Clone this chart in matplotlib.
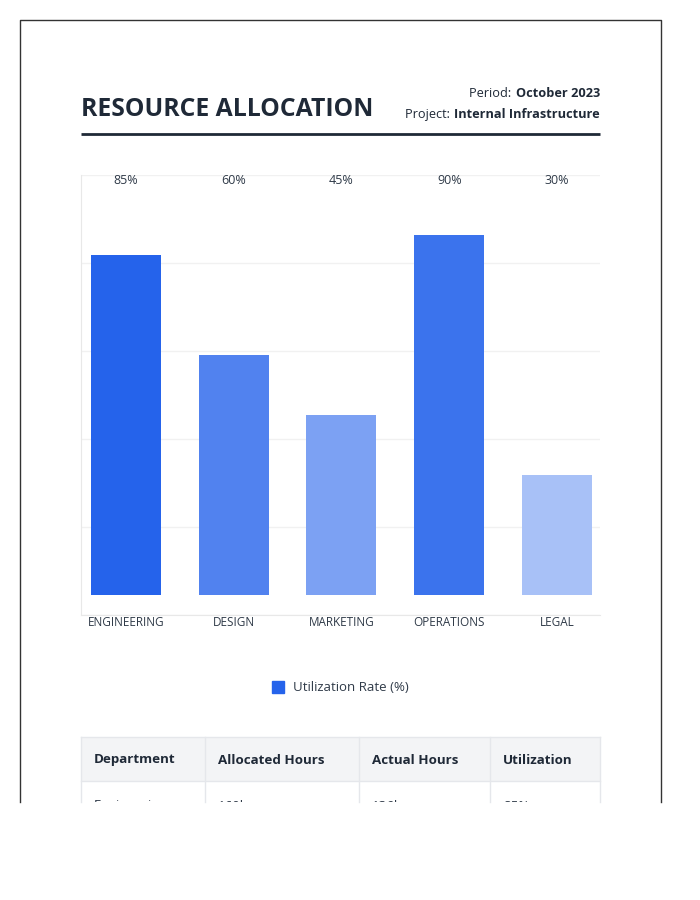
import matplotlib
matplotlib.use("Agg")
import matplotlib.pyplot as plt
from matplotlib.patches import Rectangle
import numpy as np

plt.rcParams['font.family'] = ['Open Sans', 'DejaVu Sans']

# ---- data ----
departments = ["ENGINEERING", "DESIGN", "MARKETING", "OPERATIONS", "LEGAL"]
utilization = [85, 60, 45, 90, 30]
bar_colors = ["#2563eb", "#5182ef", "#7ca1f3", "#3b73ed", "#a8c1f7"]
legend_label = "Utilization Rate (%)"
title = "RESOURCE ALLOCATION"
period = "October 2023"
project = "Internal Infrastructure"
table_header = ["Department", "Allocated Hours", "Actual Hours", "Utilization"]
table_row = ["Engineering", "160h", "136h", "85%"]

W, H = 700, 900
fig = plt.figure(figsize=(W / 100, H / 100), dpi=100)
fig.patch.set_facecolor("white")

# overlay axes in pixel coords
ov = fig.add_axes([0, 0, 1, 1])
ov.set_xlim(0, W)
ov.set_ylim(H, 0)
ov.axis("off")

DARK = "#1f2937"
TXT = "#2f3a48"

# page border (clipped at bottom)
ov.plot([20, 20, 661, 661], [802, 20, 20, 802], color="#333333", lw=1.0)

# title
ov.text(81, 116, title, fontsize=17.8, fontweight="bold", color=DARK,
        ha="left", va="baseline")

# right header texts
fig.canvas.draw()
renderer = fig.canvas.get_renderer()
inv = ov.transData.inverted()

def mixed_right(y, label, value):
    t = ov.text(600, y, value, fontsize=9.2, fontweight="bold", color=DARK,
                ha="right", va="baseline")
    bb = t.get_window_extent(renderer)
    x0 = inv.transform((bb.x0, bb.y0))[0]
    ov.text(x0 - 1, y, label + " ", fontsize=9.2, color=DARK,
            ha="right", va="baseline")

mixed_right(97, "Period:", period)
mixed_right(118, "Project:", project)

# header rule
ov.plot([81, 600], [133.5, 133.5], color=DARK, lw=2, solid_capstyle="butt")

# ---- chart axes ----
left, right, top, bottom = 81, 600, 175, 615
ax = fig.add_axes([left / W, 1 - bottom / H, (right - left) / W, (bottom - top) / H])
x = np.arange(len(departments))
ax.set_xlim(-0.418, 4.40)
ax.set_ylim(-5, 105)
ax.bar(x, utilization, width=0.65, color=bar_colors, zorder=3)
for xi, v in zip(x, utilization):
    ax.text(xi, 103.7, f"{v}%", ha="center", va="center", fontsize=9,
            color=TXT, zorder=4)
ax.set_yticks(np.linspace(-5, 105, 6))
ax.yaxis.grid(True, color="#f1f1f1", lw=1, zorder=0)
ax.tick_params(axis="y", left=False, labelleft=False)
ax.set_xticks(x)
ax.set_xticklabels(departments, fontsize=8.5, color=TXT)
ax.tick_params(axis="x", length=0, pad=0.5)
for s in ["top", "right"]:
    ax.spines[s].set_visible(False)
ax.spines["left"].set_color("#e8e8e8")
ax.spines["bottom"].set_color("#e8e8e8")
ax.set_facecolor("none")

# legend
ov.add_patch(Rectangle((272, 681), 12, 12, color=bar_colors[0]))
ov.text(293, 687.5, legend_label, fontsize=9.5, color=TXT, ha="left", va="center")

# ---- table ----
clip = Rectangle((0, 0), W, 802, transform=ov.transData)
cols = [81, 205, 359, 490, 600]
ov.add_patch(Rectangle((81, 737), 519, 44, facecolor="#f3f4f6",
                       edgecolor="none"))
BORDER = "#e5e7eb"
ov.plot([81, 600], [737, 737], color=BORDER, lw=1)
ov.plot([81, 600], [781, 781], color=BORDER, lw=1)
for cx in cols:
    ov.plot([cx, cx], [737, 802], color=BORDER, lw=1)
for cx, h in zip(cols[:-1], table_header):
    ov.text(cx + 13, 760, h, fontsize=9.6, fontweight="bold", color=DARK,
            ha="left", va="center")
for cx, v in zip(cols[:-1], table_row):
    t = ov.text(cx + 13, 806, v, fontsize=9.6, color=TXT, ha="left",
                va="center")
    t.set_clip_path(clip)
    t.set_clip_on(True)

fig.savefig("out.png", dpi=100, facecolor="white")
